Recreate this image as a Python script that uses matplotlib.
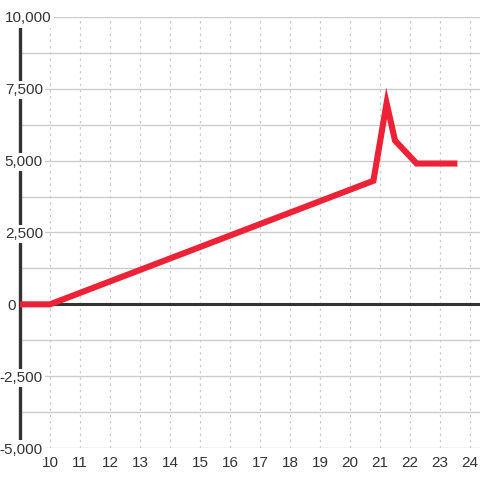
import matplotlib
matplotlib.use('Agg')
import matplotlib.pyplot as plt
import matplotlib.transforms as mtransforms

plt.rcParams['font.family'] = ['Liberation Sans', 'DejaVu Sans']

# data
x = [9, 10, 20.78, 21.22, 21.5, 22.22, 23.58]
y = [0, 0, 4300, 7000, 5700, 4900, 4900]
x_ticks = list(range(10, 25))
y_ticks = [-5000, -2500, 0, 2500, 5000, 7500, 10000]
y_grid = [-5000, -3750, -2500, -1250, 0, 1250, 2500, 3750, 5000, 6250, 7500, 8750, 10000]

fig = plt.figure(figsize=(4.8, 4.8), dpi=100)
ax = fig.add_axes([20/480, 32/480, 460/480, 431/480])
ax.set_xlim(9, 24.333)
ax.set_ylim(-5000, 10000)
ax.set_axisbelow(False)

# grid
for g in y_grid:
    ax.axhline(g, color='#cccccc', lw=1, zorder=1)
for t in x_ticks:
    ax.axvline(t, color='#cccccc', lw=0.9, ls=(0, (2, 3)), zorder=1)

# zero line
ax.axhline(0, color='#333333', lw=2.2, zorder=2)

# series
ax.plot(x, y, color='#EE2236', lw=4.4, solid_capstyle='butt',
        solid_joinstyle='miter', zorder=3)

for s in ['top', 'right', 'bottom']:
    ax.spines[s].set_visible(False)
ax.spines['left'].set_color('#333333')
ax.spines['left'].set_linewidth(2.4)
ax.spines['left'].set_zorder(2)

ax.set_xticks(x_ticks)
ax.set_xticklabels([str(t) for t in x_ticks])
ax.set_yticks(y_ticks)
ax.set_yticklabels([f'{v:,}' for v in y_ticks])
ax.tick_params(axis='x', length=0, pad=6, labelsize=11, labelcolor='#333333')
ax.tick_params(axis='y', length=0, pad=-16.5, labelsize=11, labelcolor='#333333')

# shift a couple of labels like the original does
shifts = {'0': -27, '10,000': 9}
for lab in ax.get_yticklabels():
    lab.set_bbox(dict(facecolor='white', edgecolor='none', pad=1.5))
    dx = shifts.get(lab.get_text(), 0)
    if dx:
        lab.set_transform(lab.get_transform() +
                          mtransforms.ScaledTranslation(dx / 100, 0, fig.dpi_scale_trans))
        if lab.get_text() == '0':
            lab.set_bbox(None)

fig.savefig('out.png', dpi=100, facecolor='white')
